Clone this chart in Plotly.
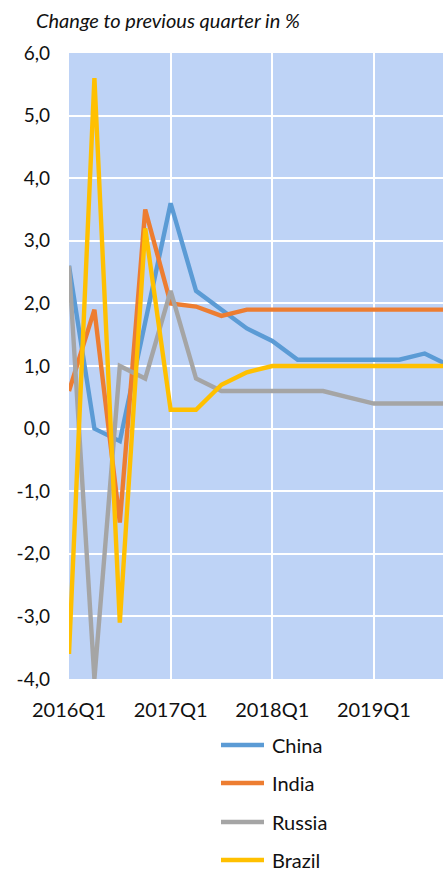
import plotly.graph_objects as go

# Quarterly change to previous quarter, in %
quarters = [
    "2016Q1", "2016Q2", "2016Q3", "2016Q4",
    "2017Q1", "2017Q2", "2017Q3", "2017Q4",
    "2018Q1", "2018Q2", "2018Q3", "2018Q4",
    "2019Q1", "2019Q2", "2019Q3", "2019Q4",
]
china = [2.6, 0.0, -0.2, 1.7, 3.6, 2.2, 1.9, 1.6, 1.4, 1.1, 1.1, 1.1, 1.1, 1.1, 1.2, 1.0]
india = [0.6, 1.9, -1.5, 3.5, 2.0, 1.95, 1.8, 1.9, 1.9, 1.9, 1.9, 1.9, 1.9, 1.9, 1.9, 1.9]
russia = [2.6, -4.0, 1.0, 0.8, 2.2, 0.8, 0.6, 0.6, 0.6, 0.6, 0.6, 0.5, 0.4, 0.4, 0.4, 0.4]
brazil = [-3.6, 5.6, -3.1, 3.2, 0.3, 0.3, 0.7, 0.9, 1.0, 1.0, 1.0, 1.0, 1.0, 1.0, 1.0, 1.0]

series_names = ["China", "India", "Russia", "Brazil"]
series_values = [china, india, russia, brazil]
series_colors = ["#5B9BD5", "#ED7D31", "#A5A5A5", "#FFC000"]

x_tick_labels = ["2016Q1", "2017Q1", "2018Q1", "2019Q1"]
y_ticks = [-4, -3, -2, -1, 0, 1, 2, 3, 4, 5, 6]
y_tick_labels = [f"{v:.1f}".replace(".", ",") for v in y_ticks]

FONT = "Lato, 'DejaVu Sans', sans-serif"
W, H = 443, 871
M_L, M_R, M_T, M_B = 69, 0, 53, 192
PLOT_W = W - M_L - M_R
PLOT_H = H - M_T - M_B


def paper_x(px):
    return (px - M_L) / PLOT_W


def paper_y(py):
    return (H - M_B - py) / PLOT_H


fig = go.Figure()
for name, vals, col in zip(series_names, series_values, series_colors):
    fig.add_trace(go.Scatter(
        x=quarters, y=vals, name=name, mode="lines",
        line=dict(color=col, width=4.4), showlegend=False,
    ))

fig.update_layout(
    width=W, height=H,
    margin=dict(l=M_L, r=M_R, t=M_T, b=M_B, pad=0),
    paper_bgcolor="white",
    plot_bgcolor="#BED3F6",
    font=dict(family=FONT, color="#111111", size=18),
    xaxis=dict(
        type="category",
        range=[0, 14.72],
        tickmode="array", tickvals=x_tick_labels, ticktext=x_tick_labels,
        showgrid=True, gridcolor="white", gridwidth=2,
        zeroline=False, showline=False, ticks="",
        ticklabelstandoff=17,
        tickfont=dict(size=20, family=FONT, color="#111111"),
    ),
    yaxis=dict(
        range=[-4, 6],
        tickmode="array", tickvals=y_ticks, ticktext=y_tick_labels,
        showgrid=True, gridcolor="white", gridwidth=2,
        zeroline=False, showline=False, ticks="",
        ticklabelstandoff=18,
        tickfont=dict(size=19, family=FONT, color="#111111"),
    ),
)

# Axis title placed above the plot
fig.add_annotation(
    text="<i>Change to previous quarter in %</i>",
    xref="paper", yref="paper",
    x=paper_x(34), y=paper_y(20),
    xanchor="left", yanchor="middle", showarrow=False,
    font=dict(size=20, family=FONT, color="#111111"),
)

# Legend drawn below the chart: a short line plus the series name
row_y = [745, 783, 822, 860]
for name, col, ry in zip(series_names, series_colors, row_y):
    fig.add_shape(
        type="line", xref="paper", yref="paper",
        x0=paper_x(221), x1=paper_x(264), y0=paper_y(ry), y1=paper_y(ry),
        line=dict(color=col, width=4.5),
    )
    fig.add_annotation(
        text=name, xref="paper", yref="paper",
        x=paper_x(270), y=paper_y(ry),
        xanchor="left", yanchor="middle", showarrow=False,
        font=dict(size=20, family=FONT, color="#111111"),
    )

fig.write_html("out.html")
